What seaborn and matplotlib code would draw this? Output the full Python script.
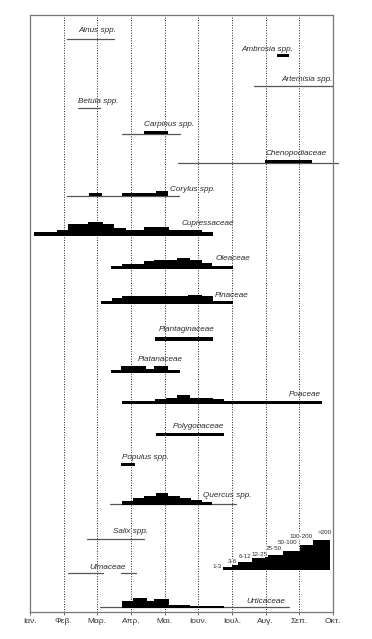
import matplotlib
matplotlib.use("Agg")
import matplotlib.pyplot as plt
import seaborn as sns
import pandas as pd
import numpy as np

# ---------------- data ----------------
months = ["Ιαν.", "Φεβ.", "Μαρ.", "Απρ.", "Μαι.", "Ιουν.", "Ιουλ.", "Αυγ.", "Σεπ.", "Οκτ."]

taxa = ["Alnus spp.", "Ambrosia spp.", "Artemisia spp.", "Betula spp.", "Carpinus spp.",
        "Chenopodiaceae", "Corylus spp.", "Cupressaceae", "Oleaceae", "Pinaceae",
        "Plantaginaceae", "Platanaceae", "Poaceae", "Polygonaceae", "Populus spp.",
        "Quercus spp.", "Salix spp.", "Ulmaceae", "Urticaceae"]

# low-level presence periods (months from 1 January)
season = {
    "Alnus spp.": [(1.09, 2.50)],
    "Artemisia spp.": [(6.66, 9.00)],
    "Betula spp.": [(1.42, 2.08)],
    "Carpinus spp.": [(2.72, 4.46)],
    "Chenopodiaceae": [(4.39, 9.14)],
    "Corylus spp.": [(1.09, 4.43)],
    "Quercus spp.": [(2.38, 6.12)],
    "Salix spp.": [(1.70, 3.40)],
    "Ulmaceae": [(1.12, 2.16), (2.70, 3.15)],
    "Urticaceae": [(2.08, 7.70)],
}

# concentration-class step edges (months) and step heights
step_edges = {
    "Ambrosia spp.": [7.33, 7.70],
    "Carpinus spp.": [3.39, 4.11],
    "Chenopodiaceae": [6.98, 8.37],
    "Corylus spp.": [1.76, 2.13, 2.72, 3.74, 4.09],
    "Cupressaceae": [0.11, 0.79, 1.14, 1.73, 2.16, 2.50, 2.85, 3.39, 4.14, 5.10, 5.43],
    "Oleaceae": [2.41, 2.72, 3.39, 3.68, 4.36, 4.75, 5.10, 5.40, 6.04],
    "Pinaceae": [2.10, 2.43, 2.72, 4.70, 5.10, 5.43, 6.04],
    "Plantaginaceae": [3.71, 5.43],
    "Platanaceae": [2.41, 2.70, 3.44, 3.68, 4.09, 4.45],
    "Poaceae": [2.74, 3.71, 4.03, 4.38, 4.75, 5.43, 5.76, 8.67],
    "Polygonaceae": [3.73, 5.76],
    "Populus spp.": [2.70, 3.12],
    "Quercus spp.": [2.72, 3.05, 3.39, 3.73, 4.11, 4.46, 4.77, 5.10, 5.40],
    "Urticaceae": [2.72, 3.05, 3.47, 3.69, 4.13, 4.75, 5.76],
}
step_heights = {
    "Ambrosia spp.": [3.0],
    "Carpinus spp.": [3.0],
    "Chenopodiaceae": [3.3],
    "Corylus spp.": [3.3, 0.0, 3.0, 5.5],
    "Cupressaceae": [4.3, 6.7, 12.0, 14.7, 12.0, 8.0, 6.7, 9.7, 6.7, 4.3],
    "Oleaceae": [3.8, 5.5, 8.0, 9.3, 11.7, 9.3, 6.0, 3.8],
    "Pinaceae": [3.5, 6.0, 8.3, 9.3, 8.3, 3.5],
    "Plantaginaceae": [4.0],
    "Platanaceae": [3.3, 7.0, 4.3, 7.0, 3.3],
    "Poaceae": [3.3, 4.7, 6.3, 8.7, 6.3, 4.7, 3.3],
    "Polygonaceae": [2.7],
    "Populus spp.": [2.7],
    "Quercus spp.": [4.0, 6.5, 9.0, 11.3, 9.0, 6.5, 4.5, 3.0],
    "Urticaceae": [6.8, 9.5, 6.8, 8.7, 3.0, 1.5],
}

legend_classes = ["1-3", "3-6", "6-12", "12-25", "25-50", "50-100", "100-200", ">200"]
legend_heights = [3.3, 5.3, 8.5, 12.0, 15.5, 19.5, 25.0, 30.0]

# ---------------- layout ----------------
row_y = [39, 57, 86, 108, 134, 163, 196, 236, 269, 304, 341, 373, 403.5, 435, 465, 504,
         539, 573, 607]
label_xy = [(1.43, 31), (6.27, 50), (7.46, 80), (1.43, 102), (3.39, 125), (7.01, 154),
            (4.16, 190), (4.49, 223.5), (5.52, 259), (5.50, 295.7), (3.83, 329.3),
            (3.20, 359.3), (7.70, 394), (4.23, 426), (2.72, 457.3), (5.13, 495.7),
            (2.46, 531.7), (1.76, 567.7), (6.44, 601.7)]
legend_edges = [5.74, 5.99, 6.19, 6.59, 6.98, 7.51, 8.02, 8.41, 8.91]
legend_base = 570
legend_label_xy = [(5.57, 566), (6.01, 561.5), (6.39, 557), (6.83, 554), (7.25, 549),
                   (7.66, 542), (8.06, 536), (8.76, 532)]

# ---------------- drawing ----------------
sns.set_theme(style="white")
plt.rcParams["font.family"] = ["Liberation Sans", "DejaVu Sans"]

W, H = 372, 639
fig = plt.figure(figsize=(W / 100, H / 100), dpi=100)
top_px, bot_px, left_px, right_px = 15, 612, 30, 333
ax = fig.add_axes([left_px / W, 1 - bot_px / H, (right_px - left_px) / W, (bot_px - top_px) / H])

# dotted month lines
for m in range(1, 9):
    ax.axvline(m, color="#222", lw=0.7, ls=(0, (1, 1.6)), zorder=1)

# thin presence lines via seaborn
recs = []
for i, t in enumerate(taxa):
    for j, (a, b) in enumerate(season.get(t, [])):
        recs.append({"seg": f"{t}-{j}", "month": a, "y": row_y[i]})
        recs.append({"seg": f"{t}-{j}", "month": b, "y": row_y[i]})
df = pd.DataFrame(recs)
sns.lineplot(data=df, x="month", y="y", units="seg", estimator=None, sort=False,
             color="#555555", lw=0.9, ax=ax, legend=False, zorder=2)
for ln in ax.get_lines():
    ln.set_clip_on(False)

# concentration steps
for i, t in enumerate(taxa):
    if t not in step_edges:
        continue
    e = np.array(step_edges[t])
    h = np.array(step_heights[t] + [step_heights[t][-1]])
    y0 = row_y[i] + 0.5
    ax.fill_between(e, y0, y0 - h, step="post", color="black", lw=0, zorder=3)

for i, t in enumerate(taxa):
    x, y = label_xy[i]
    ax.text(x, y, t, ha="left", va="center", fontsize=5.9, style="italic",
            color="#2a2a2a", zorder=5)

# concentration-class legend
le = np.array(legend_edges)
lh = np.array(legend_heights + [legend_heights[-1]])
ax.fill_between(le, legend_base, legend_base - lh, step="post", color="black", lw=0, zorder=3)
for k, c in enumerate(legend_classes):
    x, y = legend_label_xy[k]
    ax.text(x, y, c, ha="center", va="center", fontsize=4.5, color="#2a2a2a", zorder=6,
            bbox=dict(facecolor="white", edgecolor="none", pad=0.2))

ax.set_xlim(0, 9)
ax.set_ylim(bot_px, top_px)
ax.set_xticks(range(10))
ax.set_xticklabels(months, fontsize=6, color="#333")
ax.set_yticks([])
ax.set_xlabel("")
ax.set_ylabel("")
ax.tick_params(axis="x", length=2, width=0.6, color="#555", pad=2, bottom=True)
for s in ax.spines.values():
    s.set_color("#777")
    s.set_linewidth(0.9)

fig.savefig("out.png", dpi=100, facecolor="white")
